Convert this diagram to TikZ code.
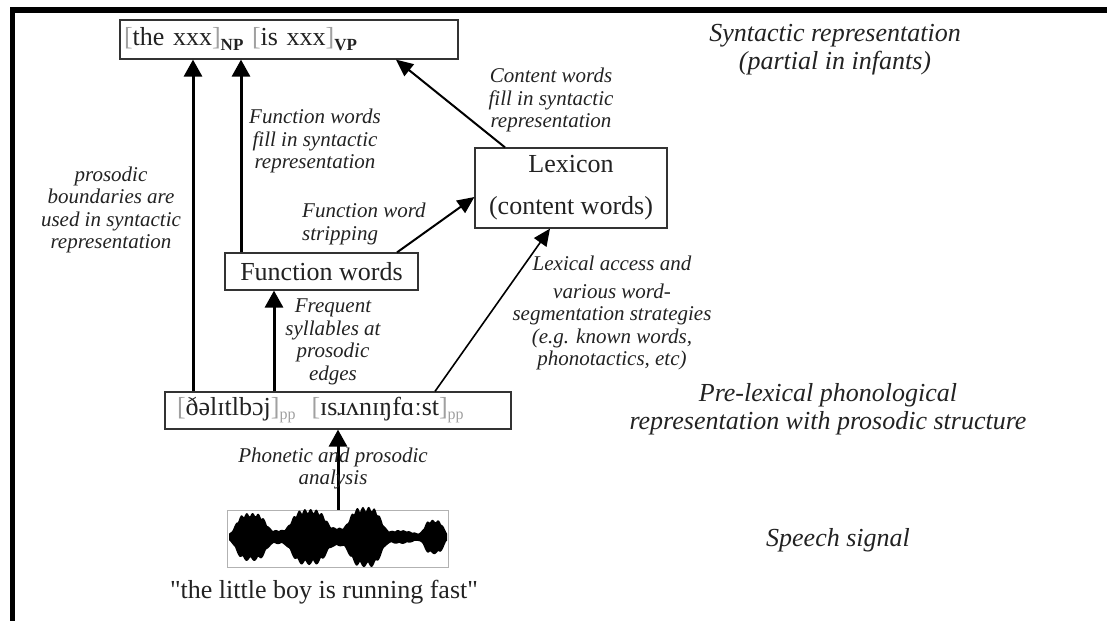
\documentclass[tikz,border=0pt]{standalone}
\usepackage{fontspec}
\setmainfont{Liberation Serif}
\newfontfamily\capfont{Liberation Serif}[Ligatures=TeXOff]
\usetikzlibrary{arrows.meta}
\definecolor{txt}{HTML}{222222}
\definecolor{brk}{HTML}{A0A0A0}
\definecolor{boxc}{HTML}{333333}
\newcommand{\lowsubb}[1]{\raisebox{-5pt}{\fontsize{17}{17}\selectfont\bfseries #1}}
\newcommand{\lowsubg}[1]{\raisebox{-4pt}{\fontsize{16}{16}\selectfont\color{brk}#1}}
\begin{document}
\begin{tikzpicture}[x=1pt,y=-1pt,
  declare function={g(\x,\c,\w)=exp(-min(((\x-\c)/\w)*((\x-\c)/\w),30));
    q(\x,\c,\w)=exp(-min(((\x-\c)/\w)*((\x-\c)/\w),6)*min(((\x-\c)/\w)*((\x-\c)/\w),6));
    env(\x)=2+5*g(\x,278,10)+7*g(\x,338,8)+5*g(\x,400,18)+22*q(\x,251,17)+26*q(\x,309,20)+28*q(\x,365,18)+15*q(\x,434,11);},
  box/.style={draw=boxc, line width=1.2pt, inner sep=0pt, text=txt, font=\fontsize{26}{30}\selectfont},
  lab/.style={align=center, text=txt, font=\fontsize{21}{22.5}\selectfont\itshape, inner sep=0pt},
  biglab/.style={align=center, text=txt, font=\fontsize{26}{28}\selectfont\itshape, inner sep=0pt},
  thickarr/.style={line width=3pt, -{Triangle[length=17pt,width=18pt]}},
  thinarr/.style={line width=2pt, -{Triangle[length=17pt,width=15pt]}},
]
\useasboundingbox (0,0) rectangle (1107,621);
% frame
\fill[black] (11,7) rectangle (1107,13);
\fill[black] (10,7) rectangle (15,621);

% boxes
\node[box, text width=330pt, align=left, inner xsep=4pt, minimum height=39pt] (syn) at (289,39.5)
  {{\color{brk}[}the xxx{\color{brk}]}\lowsubb{NP}\ {\color{brk}[}is xxx{\color{brk}]}\lowsubb{VP}};
\node[box, minimum width=193pt, minimum height=37pt] (fw) at (321.5,271.5) {Function words};
\node[box, minimum width=192pt, minimum height=80pt, align=center] (lex) at (571,188) {Lexicon\\[12pt](content words)};
\node[box, text width=322pt, align=left, inner xsep=12pt, minimum height=37pt] (phon) at (338,410.5)
  {{\color{brk}[}ðəlɪtlbɔj{\color{brk}]}\lowsubg{pp}\hspace{16pt}{\color{brk}[}ɪsɹʌnɪŋfɑːst{\color{brk}]}\lowsubg{pp}};

% waveform
\node[draw=gray!60, line width=0.6pt, minimum width=221pt, minimum height=57pt, inner sep=0pt] (wave) at (337.5,538.5) {};
\fill[black] plot[domain=229:447, samples=219] (\x,{537-env(\x)*(0.82+0.18*abs(sin(\x*31)))})
  -- plot[domain=447:229, samples=219] (\x,{537+env(\x)*(0.82+0.18*abs(sin(\x*23)))}) -- cycle;
\node[text=txt, font=\fontsize{26}{30}\selectfont\capfont, inner sep=0pt] (cap) at (324,592) {"the little boy is running fast"};

% arrows
\draw[thickarr] (phon.north -| 193,0) -- (syn.south -| 193,0);
\draw[thickarr] (fw.north -| 241,0) -- (syn.south -| 241,0);
\draw[thickarr] (phon.north -| 274,0) -- (fw.south -| 274,0);
\draw[thickarr] (wave.north -| 338,0) -- (phon.south -| 338,0);
\draw[thinarr] (fw.north -| 397,0) -- (lex.west |- 0,197);
\draw[thinarr] (lex.north -| 505,0) -- (syn.south -| 396,0);
\draw[thinarr, line width=1.6pt] (phon.north -| 435,0) -- (lex.south -| 550,0);

% labels
\node[lab] (l1) at (111,210) {prosodic\\boundaries are\\used in syntactic\\representation};
\node[lab] (l2) at (315,141) {Function words\\fill in syntactic\\representation};
\node[lab, align=left, anchor=west] (l3) at (302,224) {Function word\\stripping};
\node[lab] (l4) at (551,100) {Content words\\fill in syntactic\\representation};
\node[lab] (l5) at (612,313) {Lexical access and\\[5pt]various word-\\segmentation strategies\\(e.g. known words,\\phonotactics, etc)};
\node[lab] (l6) at (333,342) {Frequent\\syllables at\\prosodic\\edges};
\node[lab] (l7) at (333,468.5) {Phonetic and prosodic\\analysis};
\node[biglab] (r1) at (835,50) {Syntactic representation\\(partial in infants)};
\node[biglab] (r2) at (828,409) {Pre-lexical phonological\\representation with prosodic structure};
\node[biglab] (r3) at (838,540) {Speech signal};
\end{tikzpicture}
\end{document}
